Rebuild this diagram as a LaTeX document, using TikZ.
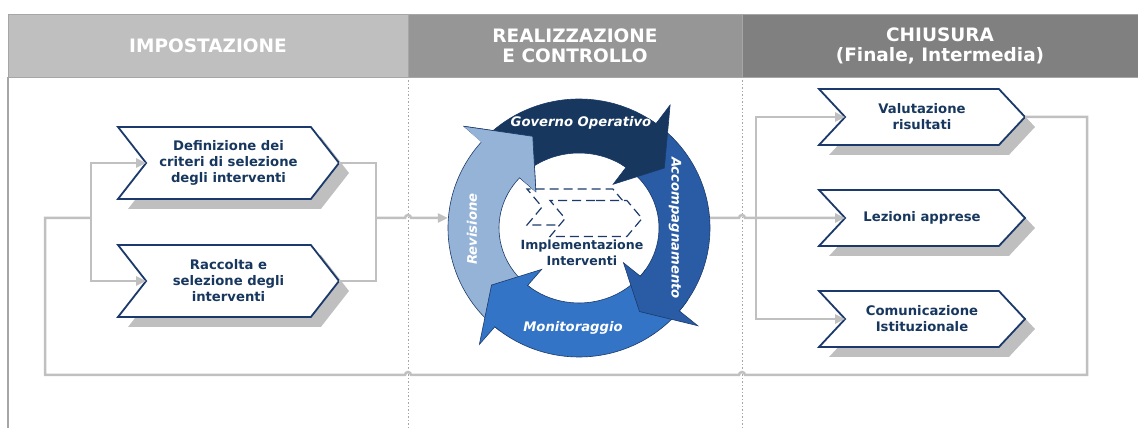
\documentclass[tikz,border=0pt]{standalone}
\usepackage{fontspec}
\setmainfont{DejaVu Sans}
\usetikzlibrary{positioning}
\usetikzlibrary{shapes}
\usetikzlibrary{calc}
\usetikzlibrary{shadows}
\usetikzlibrary{arrows.meta}

\definecolor{HeadLight}{HTML}{BFBFBF}
\definecolor{HeadMid}{HTML}{969696}
\definecolor{HeadDark}{HTML}{808080}
\definecolor{Navy}{HTML}{17375E}
\definecolor{NavyLine}{HTML}{1B3A6B}
\definecolor{FlowGray}{HTML}{C0C0C0}
\definecolor{SepGray}{HTML}{A6A6A6}
\definecolor{GovBlue}{HTML}{17375E}
\definecolor{AccBlue}{HTML}{2A5CA5}
\definecolor{MonBlue}{HTML}{3474C6}
\definecolor{RevBlue}{HTML}{95B3D7}

\begin{document}
\begin{tikzpicture}
	[x=1pt, y=1pt,
	>={Triangle[length=10pt, width=9pt]}]

\useasboundingbox (0,0) rectangle (1138,428);

\def\BigWidth{221pt}
\def\BigHeight{72pt}
\def\SmallWidth{206pt}
\def\SmallHeight{56pt}
\def\ORx{131} \def\ORy{129}
\def\IRx{80}  \def\IRy{75}
\def\MRx{105.5} \def\MRy{102}
\def\OBx{155} \def\OBy{152}
\def\IBx{58}  \def\IBy{54}

% fill colour, tail angle, base angle, tip angle
\newcommand\CycleArrow[4]{%
	\filldraw[cycle arrow, fill=#1]
		(#2:\ORx pt and \ORy pt) arc[start angle=#2, end angle=#3, x radius=\ORx pt, y radius=\ORy pt]
		-- (#3:\OBx pt and \OBy pt) -- (#4:\MRx pt and \MRy pt) -- (#3:\IBx pt and \IBy pt)
		-- (#3:\IRx pt and \IRy pt) arc[start angle=#3, end angle=#2, x radius=\IRx pt, y radius=\IRy pt]
		-- cycle;}

% Styles
\tikzstyle{header} =
	[text=white, font=\bfseries\fontsize{18.5}{20}\selectfont, align=center,
	 inner sep=0pt, outer sep=0pt, draw=SepGray, line width=0.6pt, minimum height=63pt]

\tikzstyle{phase} =
	[signal, signal from=west, signal to=east, draw=NavyLine, line width=1.8pt,
	 fill=white, text=Navy, font=\bfseries\fontsize{13.2}{16}\selectfont, align=center,
	 inner sep=0pt, outer sep=0pt,
	 drop shadow={shadow xshift=10pt, shadow yshift=-10pt, fill=black!25, draw=none, opacity=1}]

\tikzstyle{big} =
	[phase, minimum width=\BigWidth, minimum height=\BigHeight, signal pointer angle=104]

\tikzstyle{small} =
	[phase, minimum width=\SmallWidth, minimum height=\SmallHeight, signal pointer angle=94]

\tikzstyle{cycle arrow} =
	[draw=NavyLine, line width=0.6pt]

\tikzstyle{cycle label} =
	[text=white, font=\bfseries\itshape\fontsize{13.2}{15}\selectfont]

\tikzstyle{impl} =
	[signal, signal from=west, signal to=east, draw=NavyLine, line width=1.2pt,
	 dash pattern=on 9pt off 5pt, signal pointer angle=100, minimum height=36pt]

\tikzstyle{flow} =
	[draw=FlowGray, line width=2.5pt]

\tikzstyle{sep line} =
	[draw=SepGray, line width=1pt, dash pattern=on 1.5pt off 2pt]

% Headers

\node (HeadImp) at (8,414)
	[header, fill=HeadLight, anchor=north west, minimum width=400pt] {IMPOSTAZIONE};
\node (HeadReal) [header, fill=HeadMid, minimum width=334pt, right=0pt of HeadImp]
	{REALIZZAZIONE\\E CONTROLLO};
\node (HeadChi) [header, fill=HeadDark, minimum width=396pt, right=0pt of HeadReal]
	{CHIUSURA\\(Finale, Intermedia)};

\coordinate (Bottom) at (0,0);
\coordinate (SepA) at (HeadImp.south east);
\coordinate (SepB) at (HeadReal.south east);

\draw[sep line] (SepA) -- (SepA |- Bottom);
\draw[sep line] (SepB) -- (SepB |- Bottom);
\draw[draw=SepGray, line width=1.2pt] (HeadImp.south west) -- (HeadImp.south west |- Bottom);

% Modules

\node (Criteri) at (228.5,265) [big] {Definizione dei\\criteri di selezione\\degli interventi};
\node (Raccolta) [big, below=46pt of Criteri] {Raccolta e\\selezione degli\\interventi};

\node (Valutazione) at (922,311) [small] {Valutazione\\risultati};
\node (Lezioni) [small, below=45pt of Valutazione] {Lezioni apprese};
\node (Comunicazione) [small, below=45pt of Lezioni] {Comunicazione\\Istituzionale};

\node (Ciclo) at (579,200) [ellipse, minimum width=262pt, minimum height=258pt, inner sep=0pt] {};

\begin{scope}[shift={(Ciclo.center)}]
	\CycleArrow{RevBlue}{233}{138}{116}
	\CycleArrow{MonBlue}{-34}{-130}{-146}
	\CycleArrow{AccBlue}{58}{-40}{-55}
	\CycleArrow{GovBlue}{134}{54}{36}
	\fill[RevBlue] (138:\OBx pt and \OBy pt) -- (116:\MRx pt and \MRy pt) -- (138:\IBx pt and \IBy pt) -- cycle;
	\draw[cycle arrow] (138:\OBx pt and \OBy pt) -- (116:\MRx pt and \MRy pt) -- (138:\IBx pt and \IBy pt);
\end{scope}

\node (GovLabel) at (581,305) [cycle label] {Governo Operativo};
\node (AccLabel) at (675,200) [cycle label, rotate=-90] {Accompagnamento};
\node (MonLabel) at (573,100) [cycle label] {Monitoraggio};
\node (RevLabel) at (472,199) [cycle label, rotate=90] {Revisione};

\node (ImplBack) at (577.5,221) [impl, minimum width=101pt] {};
\node (ImplFront) at (596,209.5) [impl, fill=white, minimum width=92pt] {};
\node (ImplText) at (582,175) [text=Navy, font=\bfseries\fontsize{12.6}{16}\selectfont, align=center]
	{Implementazione\\Interventi};

% Edges

\coordinate (JoinL) at (376,210);
\coordinate (SplitL) at (91,210);
\coordinate (SplitR) at (756,210);
\coordinate (LoopBL) at (45,53);
\coordinate (LoopBR) at (1087,53);

\draw[flow] (Criteri.east) -| (JoinL);
\draw[flow] (Raccolta.east) -| (JoinL);
\draw[flow, ->] (JoinL) -- ($(SepA |- JoinL)+(-3,0)$) arc[start angle=180, end angle=0, radius=3pt]
	-- (Ciclo.west |- JoinL);

\draw[flow, ->] (Ciclo.east |- SplitR) -- ($(SepB |- SplitR)+(-3,0)$) arc[start angle=180, end angle=0, radius=3pt]
	-- (Lezioni.west);
\draw[flow, ->] (SplitR) |- (Valutazione.west);
\draw[flow, ->] (SplitR) |- (Comunicazione.west);

\draw[flow] (Valutazione.east) -| (LoopBR)
	-- ($(SepB |- LoopBR)+(3,0)$) arc[start angle=0, end angle=180, radius=3pt]
	-- ($(SepA |- LoopBR)+(3,0)$) arc[start angle=0, end angle=180, radius=3pt]
	-- (LoopBL) |- (SplitL);
\draw[flow, ->] (SplitL) |- (Criteri.west);
\draw[flow, ->] (SplitL) |- (Raccolta.west);

\end{tikzpicture}
\end{document}
